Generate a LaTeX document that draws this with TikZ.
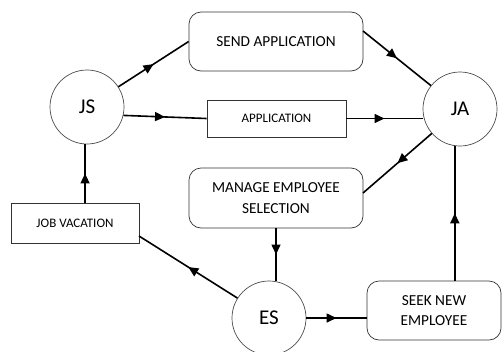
\documentclass[tikz,border=0pt]{standalone}
\usepackage{fontspec}
\setmainfont{Carlito}
\usetikzlibrary{decorations.markings,arrows.meta}
\begin{document}
\begin{tikzpicture}[x=1pt,y=-1pt,
  circ/.style={draw=black!70,line width=0.7pt,circle,minimum size=74pt,inner sep=0pt,font=\fontsize{21}{21}\selectfont},
  rbox/.style={draw=black!80,line width=0.7pt,rounded corners=12pt,align=center,font=\fontsize{15.3}{20.5}\selectfont,inner sep=0pt},
  sbox/.style={draw=black!80,line width=0.7pt,align=center,font=\fontsize{13}{15}\selectfont,inner sep=0pt},
  flow/.style={line width=1.6pt,postaction={decorate},decoration={markings,mark=at position 0.5 with {\arrow{Triangle[length=10pt,width=9pt]}}}}]
\useasboundingbox (0,0) rectangle (502,351);
\node[circ] (js) at (87,107) {JS};
\node[circ] (ja) at (460,109) {JA};
\node[circ] (es) at (269,318) {ES};
\node[rbox,minimum width=174pt,minimum height=59pt] (send) at (276,41.5) {SEND APPLICATION};
\node[sbox,minimum width=139pt,minimum height=37pt] (app) at (276.5,118.5) {APPLICATION};
\node[rbox,minimum width=174pt,minimum height=60pt] (man) at (276,198) {MANAGE EMPLOYEE\\SELECTION};
\node[sbox,minimum width=128pt,minimum height=40pt] (job) at (75,223) {JOB VACATION};
\node[rbox,minimum width=134pt,minimum height=59pt] (seek) at (434,310.5) {SEEK NEW\\EMPLOYEE};
\coordinate (s1) at (363,31);
\coordinate (m1) at (363,193);
\coordinate (j1) at (139,236);
\draw[flow] (js) -- (send.west);
\draw[flow] (js.-13) -- (app.west);
\draw[flow] (app.east) -- (app.east-|ja.west);
\draw[flow] (s1) -- (ja);
\draw[flow] (ja) -- (m1);
\draw[flow] (man.south) -- (man.south|-es.north);
\draw[flow] (es.east) -- (es.east-|seek.west);
\draw[flow] (ja.-98|-seek.north) -- (ja.-98);
\draw[flow] (es) -- (j1);
\draw[flow] (js.-93|-job.north) -- (js.-93);
\end{tikzpicture}
\end{document}
